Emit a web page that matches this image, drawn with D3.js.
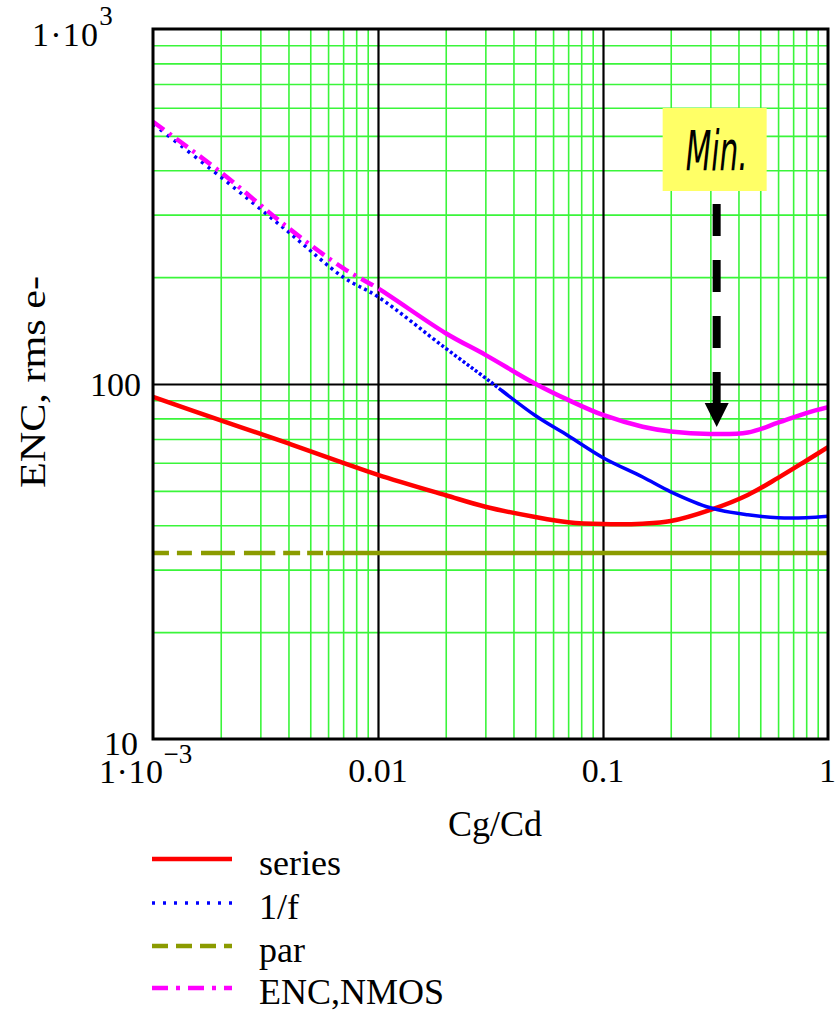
<!DOCTYPE html>
<html><head><meta charset="utf-8">
<script src="https://cdn.jsdelivr.net/npm/d3@7"></script>
<style>
html,body{margin:0;padding:0;background:#fff;}
svg{display:block;}
</style></head>
<body>
<svg id="chart" width="837" height="1011"></svg>
<script>
// ---- data ----
const ratio   = [0.001,0.002,0.004,0.007,0.01,0.02,0.03,0.05,0.07,0.1,0.15,0.2,0.3,0.44,0.6,0.8,1];
const series  = [92,79,68,60,55.5,48.6,45.1,42.2,40.8,40.3,40.4,41.1,44.2,48.7,54.4,60.8,66.4];
const oneOverF= [540,383,268,200,176,126,104,81.5,71.5,62,54.7,49.7,44.8,42.8,42.0,42.0,42.4];
const par     = [33.4,33.4,33.4,33.4,33.4,33.4,33.4,33.4,33.4,33.4,33.4,33.4,33.4,33.4,33.4,33.4,33.4];
const encNmos = [548,395,275,212,186,139,120.8,100.2,90.2,81.8,75.8,73.5,72.3,73.0,77.8,82.8,86];
const seriesNames = ["series","1/f","par","ENC,NMOS"];
const xTickLabels = ["0.01","0.1","1"];
const xTickValues = [0.01,0.1,1];
const minRatio = 0.32;   // position of the "Min." annotation
const minLabel = "Min.";

const SERIF='"Liberation Serif","Times New Roman",serif';
const svg = d3.select("#chart");
const L=153,R=828,T=29,B=739;
const x = d3.scaleLog().domain([0.001,1]).range([L,R]);
const y = d3.scaleLog().domain([10,1000]).range([B,T]);

// ---- grid via axes ----
const minorX=[], minorY=[];
[0.001,0.01,0.1].forEach(d=>{for(let k=2;k<=9;k++)minorX.push(+(d*k).toPrecision(3));});
[10,100].forEach(d=>{for(let k=2;k<=9;k++)minorY.push(d*k);});
const gGrid = svg.append("g");
const GREEN="#3af53a";
gGrid.append("g").attr("transform",`translate(0,${B})`)
  .call(d3.axisBottom(x).tickValues(minorX).tickSize(-(B-T)).tickFormat(""))
  .call(g=>{g.select(".domain").remove();g.selectAll("line").attr("stroke",GREEN).attr("stroke-width",1.6);});
gGrid.append("g").attr("transform",`translate(${L},0)`)
  .call(d3.axisLeft(y).tickValues(minorY).tickSize(-(R-L)).tickFormat(""))
  .call(g=>{g.select(".domain").remove();g.selectAll("line").attr("stroke",GREEN).attr("stroke-width",1.6);});
gGrid.append("g").attr("transform",`translate(0,${B})`)
  .call(d3.axisBottom(x).tickValues([0.01,0.1]).tickSize(-(B-T)).tickFormat(""))
  .call(g=>{g.select(".domain").remove();g.selectAll("line").attr("stroke","#000").attr("stroke-width",2.2);});
gGrid.append("g").attr("transform",`translate(${L},0)`)
  .call(d3.axisLeft(y).tickValues([100]).tickSize(-(R-L)).tickFormat(""))
  .call(g=>{g.select(".domain").remove();g.selectAll("line").attr("stroke","#000").attr("stroke-width",2.2);});

// ---- curves ----
svg.append("clipPath").attr("id","clip").append("rect").attr("x",L).attr("y",T).attr("width",R-L).attr("height",B-T);
const line = d3.line().x(d=>x(d[0])).y(d=>y(d[1])).curve(d3.curveCatmullRom.alpha(0.5));
const gC = svg.append("g").attr("clip-path","url(#clip)");
function mk(vals,color,w){
  return gC.append("path").datum(ratio.map((r,i)=>[r,vals[i]]))
    .attr("d",line).attr("fill","none").attr("stroke",color).attr("stroke-width",w)
    .attr("stroke-linejoin","round");
}
// pattern that repeats `pat` until the curve reaches pixel x = xEnd, then solid
function progressive(path,pat,xEnd,shrink){
  const node=path.node(), len=node.getTotalLength();
  const arr=[]; let s=0, i=0;
  while(s<len){
    const px=node.getPointAtLength(s).x;
    if(px>=xEnd) break;
    let v=pat[i%pat.length];
    if(i%2===1 && shrink){v=Math.max(0.8,v*(1-(px-L)/(xEnd-L)*0.7));}
    arr.push(v); s+=v; i++;
  }
  if(arr.length%2===1) arr.push(0);
  arr.push(len+20,0);
  path.attr("stroke-dasharray",arr.join(","));
}
const pPar=mk(par,"#8b9b00",4.5);
progressive(pPar,[16,8,15,9,34,9,31,8,17,7,16,3],330,false);
const pSer=mk(series,"#ff0000",4.5);
const pF=mk(oneOverF,"#0000ff",3.5);
progressive(pF,[3,6],500,true);
const pE=mk(encNmos,"#ff00ff",4.5);
progressive(pE,[14,6,3,6],378,false);

// ---- frame ----
svg.append("rect").attr("x",L).attr("y",T).attr("width",R-L).attr("height",B-T)
  .attr("fill","none").attr("stroke","#000").attr("stroke-width",3);

// ---- tick labels ----
const fs=34;
function txt(){return svg.append("text").style("font-family",SERIF).attr("fill","#000");}
// 1·10^3 at top left
{
  const t=txt().attr("font-size",fs).attr("x",32).attr("y",46);
  t.append("tspan").attr("textLength",66).attr("lengthAdjust","spacing").text("1\u00b710");
  t.append("tspan").attr("dy",-21).attr("font-size",27).text("3");
}
txt().attr("font-size",fs).attr("x",141).attr("y",396).attr("text-anchor","end").text("100");
txt().attr("font-size",fs).attr("x",138).attr("y",755).attr("text-anchor","end").text("10");
// 1·10^-3 under the left corner
{
  const t=txt().attr("font-size",fs).attr("x",99).attr("y",783);
  t.append("tspan").attr("textLength",64).attr("lengthAdjust","spacing").text("1\u00b710");
  t.append("tspan").attr("dy",-20).attr("font-size",27).text("\u22123");
}
xTickValues.forEach((v,i)=>{
  if(v===1){
    txt().attr("font-size",fs).attr("x",x(v)-9).attr("y",782).attr("text-anchor","start").text(xTickLabels[i]);
  } else {
    txt().attr("font-size",fs).attr("x",x(v)).attr("y",782).attr("text-anchor","middle").text(xTickLabels[i]);
  }
});
txt().attr("font-size",36).attr("x",495).attr("y",836).attr("text-anchor","middle").text("Cg/Cd");
txt().attr("font-size",35).attr("transform","translate(45,382) rotate(-90)")
  .attr("text-anchor","middle").attr("textLength",212).attr("lengthAdjust","spacingAndGlyphs").text("ENC, rms e-");

// ---- Min. annotation ----
const ax=x(minRatio);
const yMin=y(d3.min(encNmos));
svg.append("rect").attr("x",ax-54).attr("y",108).attr("width",104).attr("height",83).attr("fill","#ffff66");
svg.append("text").attr("x",ax-31).attr("y",170)
  .style("font-family",'"DejaVu Sans Condensed","DejaVu Sans",sans-serif')
  .attr("font-style","italic").attr("font-size",56).attr("textLength",62).attr("lengthAdjust","spacingAndGlyphs")
  .attr("fill","#000").text(minLabel);
svg.append("line").attr("x1",ax).attr("x2",ax).attr("y1",204).attr("y2",404)
  .attr("stroke","#000").attr("stroke-width",8).attr("stroke-dasharray","32,24");
svg.append("path").attr("d",`M${ax-12},${403}L${ax+12},${403}L${ax},${yMin-7}Z`).attr("fill","#000");

// ---- legend ----
const legColors=["#ff0000","#0000ff","#8b9b00","#ff00ff"];
const legDash=[null,"3,8","16,8","16,8,4,8"];
const legY=[859,903,946,988];
seriesNames.forEach((n,i)=>{
  svg.append("line").attr("x1",152).attr("x2",232).attr("y1",legY[i]).attr("y2",legY[i])
    .attr("stroke",legColors[i]).attr("stroke-width",i===1?3.5:4.5).attr("stroke-dasharray",legDash[i]);
  txt().attr("font-size",36).attr("x",259).attr("y",legY[i]+16).text(n);
});
</script>
</body></html>
